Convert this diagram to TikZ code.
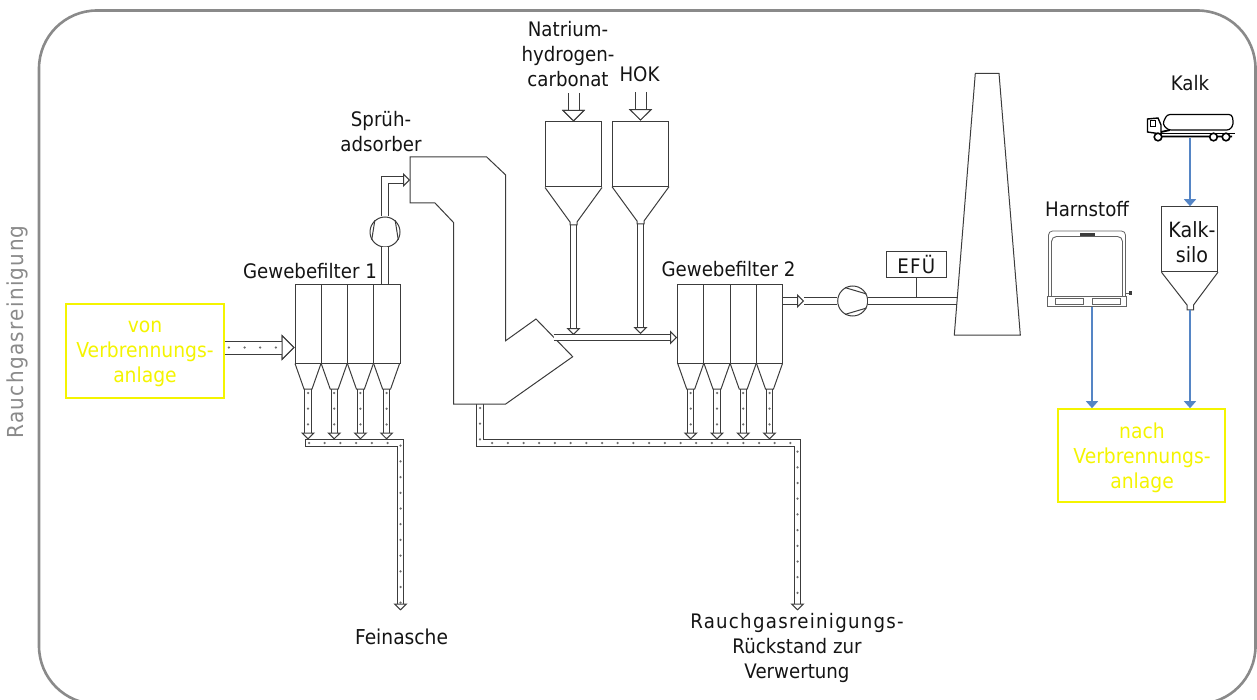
\documentclass[tikz,border=0pt]{standalone}
\usepackage{fontspec}
\setmainfont{DejaVu Sans}[FakeStretch=0.91]
\usepackage{xcolor}
\usetikzlibrary{arrows.meta,calc,decorations.markings}
\definecolor{linecol}{HTML}{3C3C3C}
\definecolor{framecol}{HTML}{8A8A8A}
\definecolor{bluearr}{HTML}{5585C5}
\definecolor{yellowcol}{HTML}{F4F400}

\begin{document}
\begin{tikzpicture}[x=1pt,y=-1pt,
  line/.style={draw=linecol,line width=1pt,line join=miter},
  txt/.style={font=\fontsize{20}{25}\selectfont,align=center,text=black!92,inner sep=0pt},
  yellowbox/.style={draw=yellowcol,line width=1.6pt,minimum width=158pt,minimum height=94pt,inner sep=0pt},
  yellowtxt/.style={font=\fontsize{20.6}{25}\selectfont,text=yellowcol,align=center,inner sep=0pt},
  filter/.style={line,minimum width=105pt,minimum height=79pt,inner sep=0pt},
  silo/.style={line,minimum width=56pt,minimum height=65pt,inner sep=0pt},
  fan/.style={line,circle,fill=white,minimum size=30pt,inner sep=0pt},
  pipe/.style={draw=linecol,line width=1pt,double=white,double distance=5.2pt},
  fatpipe/.style={draw=white,line width=#1,preaction={draw=linecol,line width=#1+2pt}},
  tipped/.style={-{Triangle[open,fill=white,length=7pt,width=14pt,line width=1pt]}},
  fattip/.style={-{Triangle[open,color=linecol,fill=white,length=#1,width=2*#1,line width=1pt]}},
  dots/.style={postaction={decorate,decoration={markings,
              mark=between positions 4pt and -6pt step 15.7pt with {\fill[linecol!75] (0,0) circle (1.25pt);}}}},
  arr/.style={draw=bluearr,line width=1.5pt,-{Triangle[length=7pt,width=12pt]}}]
\useasboundingbox (0,0) rectangle (1257,700);
\draw[framecol,line width=2.6pt,rounded corners=58pt] (39,10.5) rectangle (1255.5,704);
\node[font=\fontsize{22}{25}\addfontfeatures{LetterSpace=6}\selectfont,text=framecol,rotate=90,inner sep=0pt] (RGR) at (17.5,332) {Rauchgasreinigung};

% boxes at the sides
\node[yellowbox] (Von) at (145,351) {};
\node[yellowtxt] (VonL) at (145,353.5) {von\\Verbrennungs-\\anlage};
\node[yellowbox,minimum width=167pt,minimum height=93pt] (Nach) at (1141.5,455.5) {};
\node[yellowtxt] (NachL) at (1142,458) {nach\\Verbrennungs-\\anlage};

% filters
\node[filter] (GF1) at (347.5,324) {};
\node[filter] (GF2) at (730,324) {};
\foreach \x in {321.3,347.5,373.7} \draw[line] (\x,284.5) -- (\x,363.5);
\foreach \x in {703.7,730,756.3} \draw[line] (\x,284.5) -- (\x,363.5);
\foreach \x in {308,334.2,360.4,386.6,690.7,717,743.2,769.5} {
  \draw[pipe,tipped,dots] (\x,389) -- (\x,439.5);
  \draw[line] (\x-13,363.5) -- (\x-4,389) -- (\x+4,389) -- (\x+13,363.5);
}
\node[txt] (GF1L) at (310,271) {Gewebefilter 1};
\node[txt] (GF2L) at (728.5,269) {Gewebefilter 2};

% collecting pipes
\coordinate (Ash) at (400.5,610.5);
\coordinate (Res) at (797.5,610.5);
\coordinate (AdsOut) at (480,404);
\draw[pipe,tipped,dots] (305,443) -- (Ash |- 0,443) -- (Ash);
\draw[line] (305,439.5) -- (305,446.5);
\draw[pipe,tipped,dots] (AdsOut) -- (480,443) -- (Res |- 0,443) -- (Res);

% spray absorber
\draw[line,fill=white] (410,157) -- (410,203) -- (435,203) -- (453.5,222.5) -- (453.5,404)
  -- (505.7,404) -- (572.7,356.7) -- (536,319) -- (505.7,340.7) -- (505.7,175) -- (486.7,157) -- cycle;
\node[txt] (AdsL) at (381,131.5) {Sprüh-\\adsorber};
\coordinate (AdsIn) at (410,180);
\coordinate (AdsSide) at (553.5,337.5);

% fan behind filter 1
\node[fan] (Fan1) at (385,232) {};
\draw[line] (Fan1.211) -- (Fan1.131);
\draw[line] (Fan1.329) -- (Fan1.49);
\draw[pipe] (GF1.north -| Fan1) -- (Fan1.south);
\draw[pipe,tipped] (Fan1.north) -- (Fan1 |- AdsIn) -- (AdsIn);

% inlet
\draw[fatpipe=12pt,fattip=13pt,dots] (Von.east |- 0,347.5) -- (GF1.west |- 0,347.5);

% silos
\node[silo] (NaSilo) at (573.5,154.5) {};
\node[silo] (HokSilo) at (640.5,153.7) {};
\draw[pipe,tipped] (573.5,225) -- (573.5,335);
\draw[pipe,tipped] (640.5,224) -- (640.5,334);
\draw[line] (NaSilo.south west) -- (570,222) -- (570,225) -- (577,225) -- (577,222) -- (NaSilo.south east);
\draw[line] (HokSilo.south west) -- (637,221) -- (637,224) -- (644,224) -- (644,221) -- (HokSilo.south east);
\draw[fatpipe=10pt,fattip=11.5pt] (573.5,93) -- (NaSilo.north);
\draw[fatpipe=10pt,fattip=11.5pt] (640.5,92) -- (HokSilo.north);
\node[txt] (NaL) at (568,54) {Natrium-\\hydrogen-\\carbonat};
\node[txt] (HokL) at (639.5,74) {HOK};
\draw[pipe,tipped] (AdsSide) -- (GF2.west |- AdsSide);

% stack side
\node[fan] (Fan2) at (852.7,301) {};
\draw[line] (Fan2.120) -- (Fan2.27);
\draw[line] (Fan2.240) -- (Fan2.333);
\coordinate (GF2Out) at (804,301);
\draw[pipe] (GF2Out) -- (Fan2.west);
\draw[pipe,tipped] (GF2.east |- GF2Out) -- (GF2Out);
\coordinate (Stack) at (956.8,301);
\draw[pipe] (Fan2.east) -- (Stack);
\node[line,minimum width=60.5pt,minimum height=26pt,txt,font=\fontsize{20}{25}\addfontfeatures{LetterSpace=6}\selectfont,inner sep=0pt] (EFU) at (916.3,264.7) {EFÜ};
\draw[line] (EFU.south) -- (916.3,298);
\draw[line] (975.3,73.3) -- (999,73.3) -- (1020.3,335) -- (954.3,335) -- cycle;

% lime truck
\draw[draw=black,line width=1.2pt,fill=white,rounded corners=3pt] (1162.5,124) -- (1167,114.5) -- (1232,114.5) -- (1233.5,124) -- (1230,130) -- (1168,130) -- cycle;
\draw[draw=black,line width=1.4pt,fill=white] (1147.5,132) -- (1147.5,119) -- (1158,118) -- (1161,125) -- (1161,134) -- cycle;
\draw[draw=black,line width=.9pt] (1150,120.5) rectangle (1155.5,126);
\draw[draw=black,line width=1.8pt] (1161,132) -- (1170,130) (1160,136.5) -- (1232,136.5);
\draw[draw=black,line width=.9pt] (1160,133.5) -- (1235,133.5);
\foreach \x in {1158,1213.5,1226} \draw[draw=black,line width=1.6pt,fill=white] (\x,137) circle (3.8pt);
\coordinate (Truck) at (1190,138);
\node[txt] (KalkL) at (1190,83) {Kalk};

% lime silo
\node[silo,minimum width=55.5pt] (KSilo) at (1189.7,239.2) {};
\node[txt,font=\fontsize{21}{25}\selectfont] (KSiloL) at (1192,242) {Kalk-\\silo};
\draw[line] (KSilo.south west) -- (1187,305) -- (1187,310) -- (1193.5,310) -- (1193.5,305) -- (KSilo.south east);
\coordinate (KOut) at (1190,310);
\draw[arr] (Truck) -- (KSilo.north -| Truck);
\draw[arr] (KOut) -- (Nach.north -| KOut);

% urea container
\node[draw=linecol!80,line width=.8pt,minimum width=78.5pt,minimum height=10.7pt,inner sep=0pt] (IBC) at (1087,301.3) {};
\draw[linecol!80,line width=.8pt,rounded corners=4pt] (1048.5,296) -- (1048.5,231) -- (1125.5,231) -- (1125.5,296);
\draw[linecol!80,line width=.9pt,rounded corners=5pt] (1051.5,296) -- (1051.5,236.5) -- (1122.5,236.5) -- (1122.5,296);
\fill[linecol] (1080,233.5) rectangle (1095,236);
\draw[linecol!80,line width=.7pt] (1055,298) rectangle (1083,304) (1092,298) rectangle (1120,304);
\fill[linecol] (1129,291) rectangle (1132,295);
\draw[linecol!80,line width=.6pt] (1125.5,293) -- (1129,293);
\coordinate (IBCOut) at (1092,306.7);
\draw[arr] (IBCOut) -- (Nach.north -| IBCOut);
\node[txt] (HarnL) at (1087,209) {Harnstoff};

\node[txt,font=\fontsize{20.5}{25}\selectfont] (AshL) at (401.5,637) {Feinasche};
\node[txt] (ResL) at (797,648) {{\addfontfeatures{LetterSpace=6.3}Rauchgasreinigungs-}\\Rückstand zur\\Verwertung};
\end{tikzpicture}
\end{document}
